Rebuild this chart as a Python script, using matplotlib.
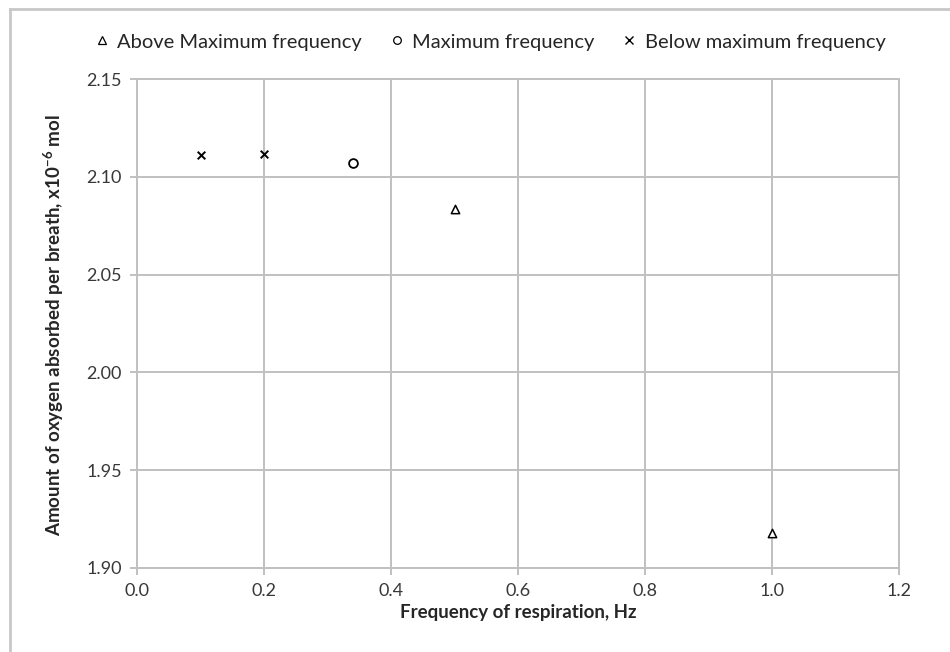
import matplotlib
matplotlib.use("Agg")
import matplotlib.pyplot as plt
from matplotlib.lines import Line2D

plt.rcParams['font.family'] = ['Lato', 'DejaVu Sans']
plt.rcParams['mathtext.default'] = 'regular'

above_x = [0.5, 1.0]
above_y = [2.0834, 1.918]
max_x = [0.34]
max_y = [2.1069]
below_x = [0.1, 0.2]
below_y = [2.111, 2.1117]

xticks = [0.0, 0.2, 0.4, 0.6, 0.8, 1.0, 1.2]
yticks = [1.90, 1.95, 2.00, 2.05, 2.10, 2.15]

W, H = 950, 652
fig = plt.figure(figsize=(W/100, H/100), dpi=100)
ax = fig.add_axes([137/W, 1-568/H, (899-137)/W, (568-79)/H])

grid_c = '#c0c0c0'
ax.scatter(above_x, above_y, marker='^', s=36, facecolors='white', edgecolors='black', linewidths=1.1, zorder=3)
ax.scatter(max_x, max_y, marker='o', s=40, facecolors='white', edgecolors='black', linewidths=1.3, zorder=3)
ax.scatter(below_x, below_y, marker='x', s=30, color='black', linewidths=1.4, zorder=3)

ax.set_xlim(0, 1.2)
ax.set_ylim(1.90, 2.15)
ax.set_xticks(xticks)
ax.set_xticklabels([f"{v:.1f}" for v in xticks])
ax.set_yticks(yticks)
ax.set_yticklabels([f"{v:.2f}" for v in yticks])
ax.grid(True, color=grid_c, linewidth=1.4)
ax.set_axisbelow(True)
for s in ax.spines.values():
    s.set_color(grid_c)
    s.set_linewidth(1.4)
ax.tick_params(axis='both', colors=grid_c, labelcolor='#383838', labelsize=13, length=5, width=1.4)
ax.tick_params(axis='x', pad=6)
ax.tick_params(axis='y', pad=6)

ax.set_xlabel("Frequency of respiration, Hz", fontsize=13.5, fontweight='bold', color='#262626')
ax.xaxis.set_label_coords(0.5, -(604 - 568) / 489)
ax.set_ylabel("Amount of oxygen absorbed per breath, x10$^{-6}$ mol", fontsize=13.5, fontweight='bold', color='#262626')
ax.yaxis.set_label_coords((66 - 137) / 762, (568 - 325) / 489)

handles = [
    Line2D([], [], linestyle='none', marker='^', markersize=5.5, markerfacecolor='white', markeredgecolor='black', markeredgewidth=0.9),
    Line2D([], [], linestyle='none', marker='o', markersize=5.5, markerfacecolor='white', markeredgecolor='black', markeredgewidth=0.9),
    Line2D([], [], linestyle='none', marker='x', markersize=5.5, color='black', markeredgewidth=1.0),
]
labels = ["Above Maximum frequency", "Maximum frequency", "Below maximum frequency"]
fig.legend(handles, labels, loc='center', bbox_to_anchor=(490/W, 1-42/H), ncol=3, frameon=False,
           fontsize=14.5, handlelength=0.7, handletextpad=0.4, columnspacing=1.4, labelcolor='#262626')

# outer chart border (left and top visible)
fig.add_artist(Line2D([10/W, 10/W], [0, 1-9/H], transform=fig.transFigure, color='#c8c8c8', linewidth=2))
fig.add_artist(Line2D([10/W, 1], [1-9/H, 1-9/H], transform=fig.transFigure, color='#c8c8c8', linewidth=2))

fig.savefig("out.png", dpi=100)
